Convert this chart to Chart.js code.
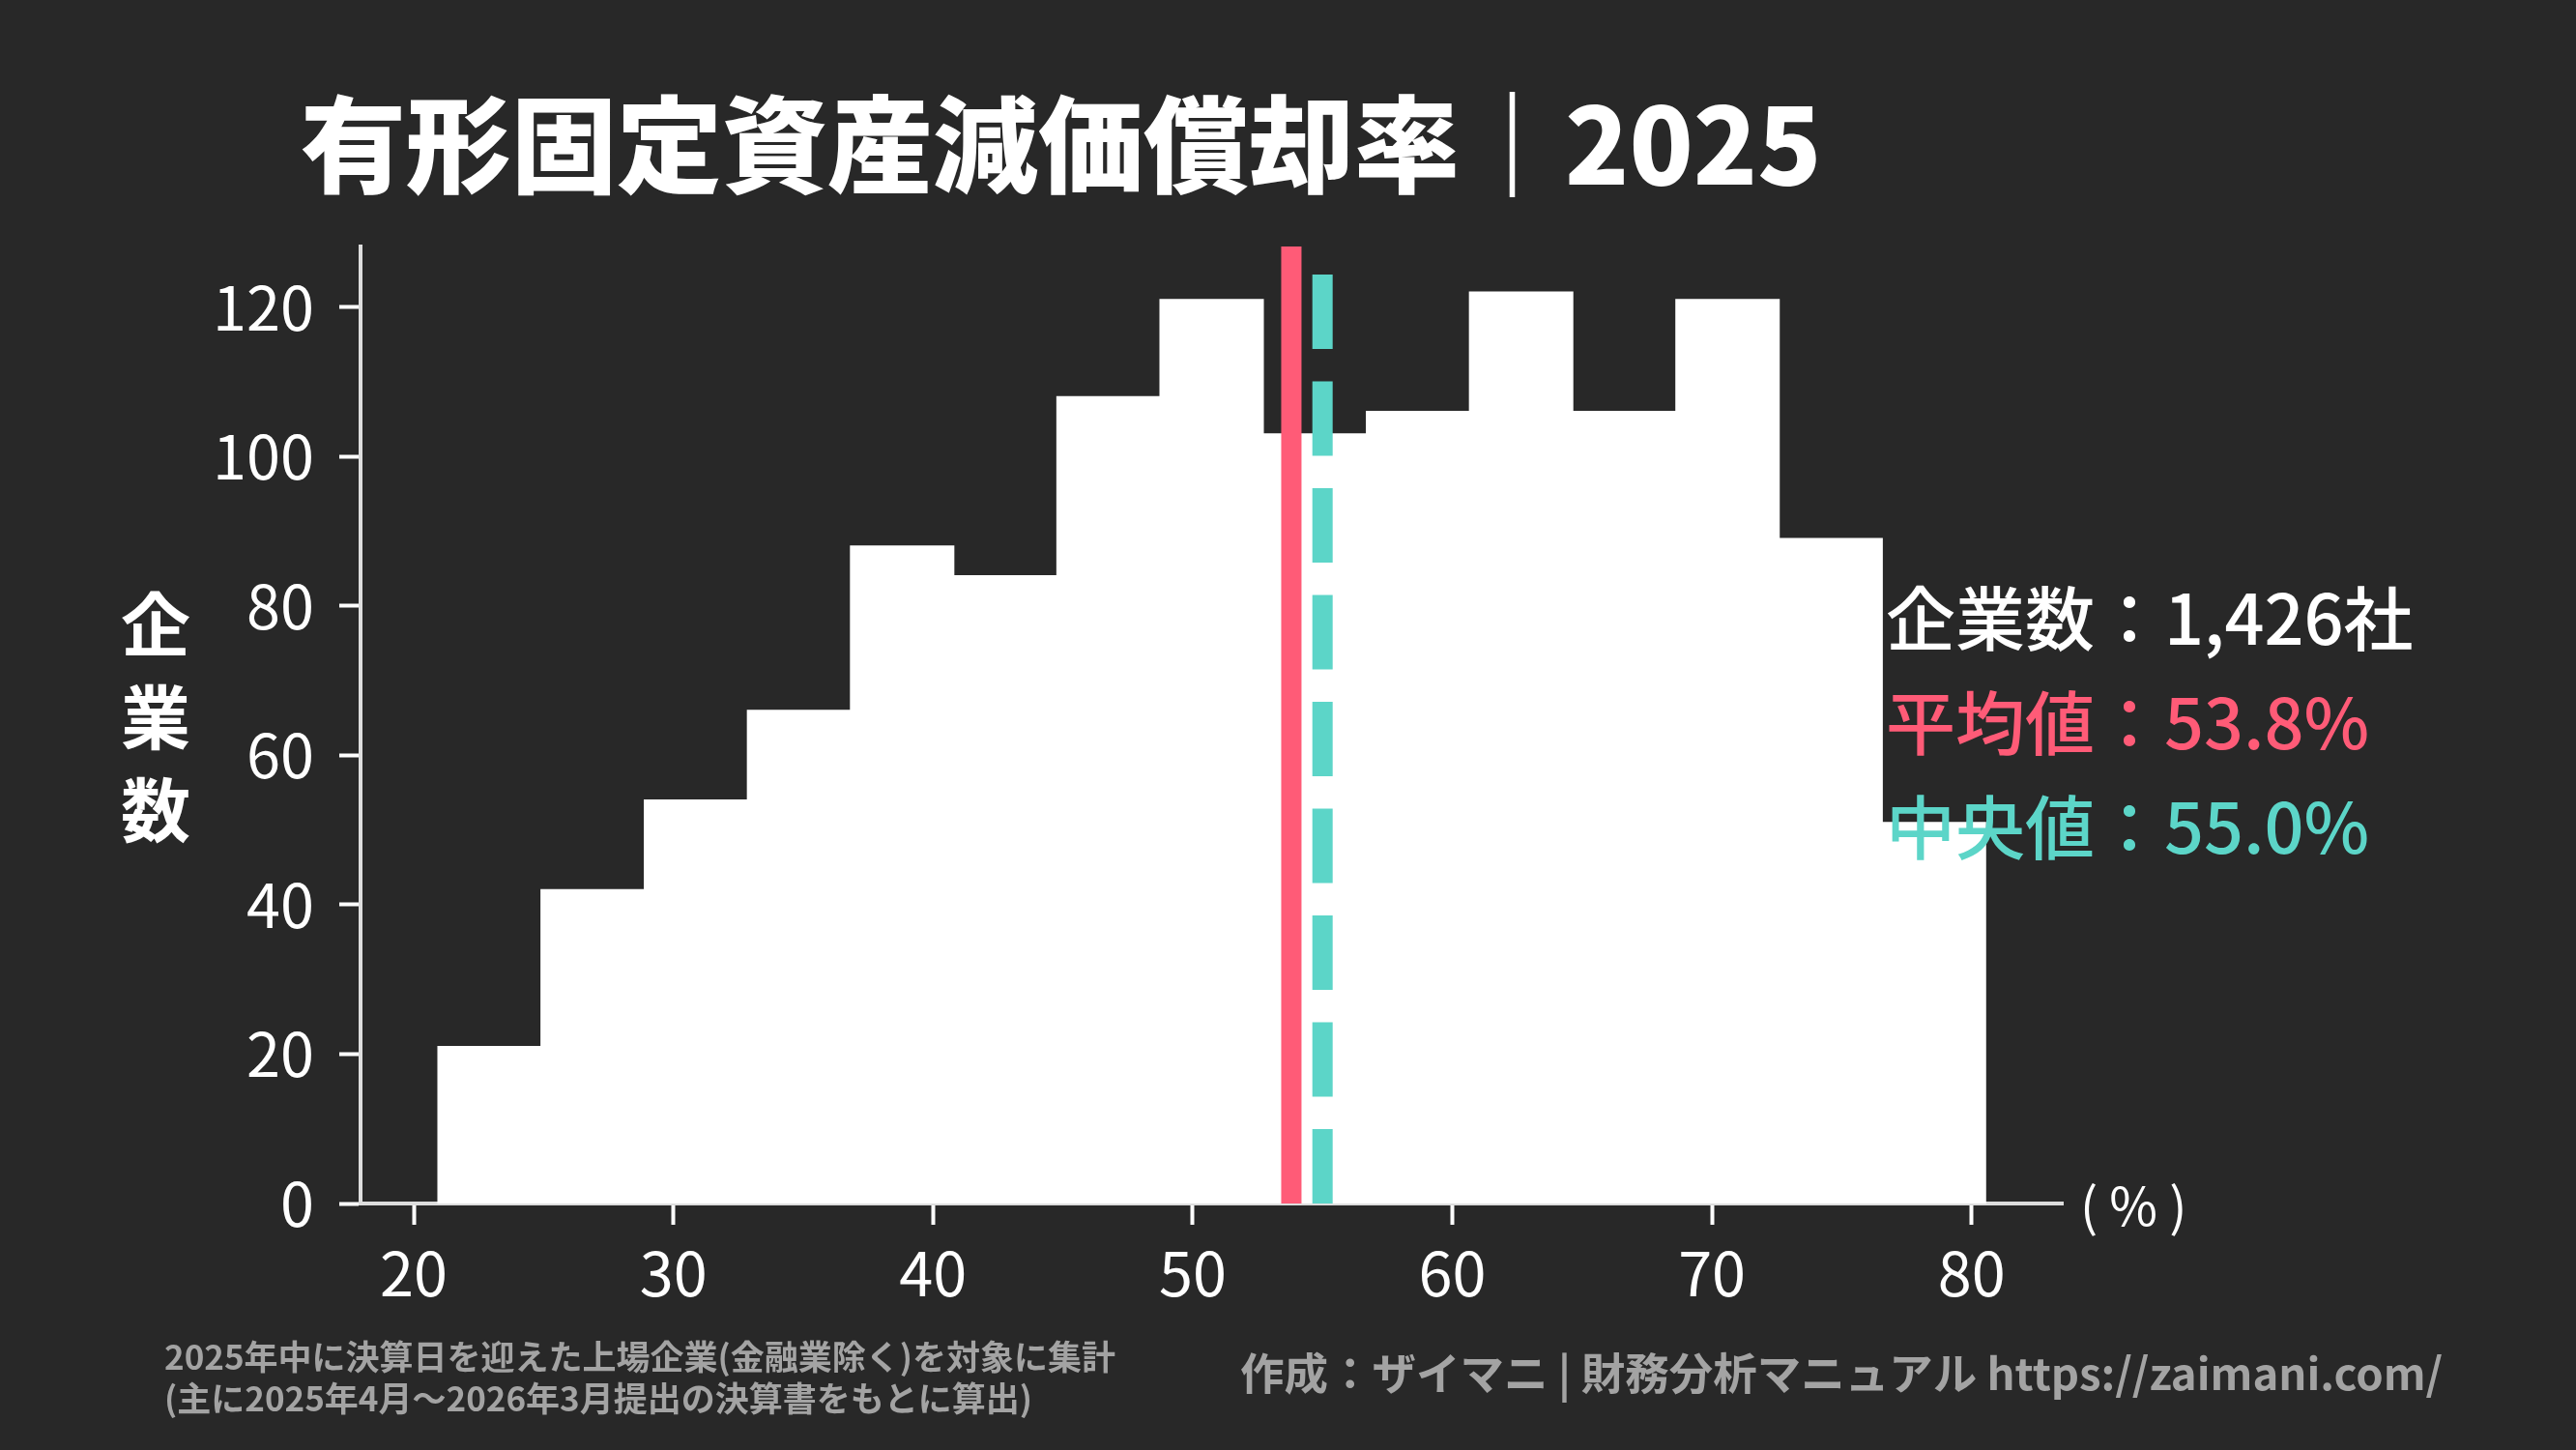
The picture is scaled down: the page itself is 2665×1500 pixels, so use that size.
<!DOCTYPE html>
<html lang="ja">
<head>
<meta charset="utf-8">
<title>有形固定資産減価償却率｜2025</title>
<script src="https://cdn.jsdelivr.net/npm/chart.js@4.4.1/dist/chart.umd.min.js"></script>
<style>
  html, body { margin: 0; padding: 0; background: #282828; }
  canvas { display: block; }
</style>
</head>
<body>
<canvas id="myChart" width="2665" height="1500"></canvas>
<script>
// histogram data (bin centres in %, company counts)
var binCenters = [22.92, 26.89, 30.87, 34.84, 38.81, 42.79, 46.76, 50.73, 54.71, 58.68, 62.65, 66.63, 70.60, 74.57, 78.55];
var counts     = [21, 42, 54, 66, 88, 84, 108, 121, 103, 106, 122, 106, 121, 89, 51];
var meanRate   = 53.8;
var medianRate = 55.0;
var xTicks = [20, 30, 40, 50, 60, 70, 80];
var yTicks = [0, 20, 40, 60, 80, 100, 120];

var titleText  = '有形固定資産減価償却率｜2025';
var yLabel     = ['企', '業', '数'];
var statsLines = ['企業数：1,426社', '平均値：53.8%', '中央値：55.0%'];
var unitLabel  = '( % )';
var noteLines  = ['2025年中に決算日を迎えた上場企業(金融業除く)を対象に集計', '(主に2025年4月～2026年3月提出の決算書をもとに算出)'];
var creditText = '作成：ザイマニ | 財務分析マニュアル https://zaimani.com/';

var BG = '#282828', RED = '#ff5b77', TEAL = '#5cd5c8', GRAY = '#a3a3a3';
var FONT = "'Noto Sans CJK JP', 'Noto Sans', sans-serif";
var Y_TOP = 128.1;

Chart.defaults.font.family = FONT;

var histData = binCenters.map(function (c, i) { return { x: c, y: counts[i] }; });

var textPlugin = {
  id: 'texts',
  beforeDraw: function (chart) {
    var ctx = chart.ctx;
    ctx.save();
    ctx.fillStyle = BG;
    ctx.fillRect(0, 0, chart.width, chart.height);
    ctx.restore();
  },
  afterDraw: function (chart) {
    var ctx = chart.ctx;
    ctx.save();
    ctx.textBaseline = 'middle';
    ctx.textAlign = 'left';

    // title
    ctx.fillStyle = '#ffffff';
    ctx.font = '900 109px ' + FONT;
    ctx.fillText(titleText, 311, 150);

    // vertical y label
    ctx.textAlign = 'center';
    ctx.font = 'bold 72px ' + FONT;
    yLabel.forEach(function (ch, i) { ctx.fillText(ch, 161, 646 + i * 96); });

    // stats
    ctx.textAlign = 'left';
    ctx.font = '500 72px ' + FONT;
    var cols = ['#ffffff', RED, TEAL];
    statsLines.forEach(function (s, i) {
      ctx.fillStyle = cols[i];
      ctx.fillText(s, 1951, 640 + i * 108);
    });

    // unit
    ctx.fillStyle = '#ffffff';
    ctx.font = '54px ' + FONT;
    ctx.fillText(unitLabel, 2152, 1247);

    // footnotes
    ctx.fillStyle = GRAY;
    ctx.font = 'bold 35px ' + FONT;
    ctx.fillText(noteLines[0], 170, 1404);
    ctx.fillText(noteLines[1], 170, 1447);
    ctx.font = 'bold 45.5px ' + FONT;
    ctx.fillText(creditText, 1283, 1421);
    ctx.restore();
  }
};

var ctx = document.getElementById('myChart').getContext('2d');
var chart = new Chart(ctx, {
  type: 'bar',
  data: {
    datasets: [{
      type: 'line',
      data: [{ x: meanRate, y: 0 }, { x: meanRate, y: Y_TOP }],
      borderColor: RED,
      borderWidth: 21,
      borderCapStyle: 'butt',
      pointRadius: 0,
      order: 1
    }, {
      type: 'line',
      data: [{ x: medianRate, y: 0 }, { x: medianRate, y: Y_TOP }],
      borderColor: TEAL,
      borderWidth: 21,
      borderDash: [77, 33.5],
      borderCapStyle: 'butt',
      pointRadius: 0,
      order: 1
    }, {
      type: 'bar',
      data: histData,
      backgroundColor: '#ffffff',
      borderWidth: 0,
      inflateAmount: 0.7,
      barPercentage: 1,
      categoryPercentage: 1,
      order: 2
    }]
  },
  options: {
    responsive: false,
    devicePixelRatio: 1,
    animation: false,
    layout: { padding: { left: 0, right: 531, top: 255, bottom: 0 } },
    plugins: { legend: { display: false }, tooltip: { enabled: false }, title: { display: false } },
    scales: {
      x: {
        type: 'linear',
        min: 17.95,
        max: 83.51,
        offset: false,
        afterBuildTicks: function (s) { s.ticks = xTicks.map(function (v) { return { value: v }; }); },
        afterFit: function (s) { s.height = 255; },
        border: { display: true, color: '#dddddd', width: 4 },
        grid: { offset: false, drawOnChartArea: false, drawTicks: true, tickLength: 22, tickWidth: 4, tickColor: '#ffffff' },
        ticks: { color: '#ffffff', font: { size: 63 }, padding: 12, maxRotation: 0 }
      },
      y: {
        type: 'linear',
        min: 0,
        max: Y_TOP,
        afterBuildTicks: function (s) { s.ticks = yTicks.map(function (v) { return { value: v }; }); },
        afterFit: function (s) { s.width = 373; },
        border: { display: true, color: '#dddddd', width: 4 },
        grid: { drawOnChartArea: false, drawTicks: true, tickLength: 22, tickWidth: 4, tickColor: '#ffffff' },
        ticks: { color: '#ffffff', font: { size: 63 }, padding: 26 }
      }
    }
  },
  plugins: [textPlugin]
});
</script>
</body>
</html>
